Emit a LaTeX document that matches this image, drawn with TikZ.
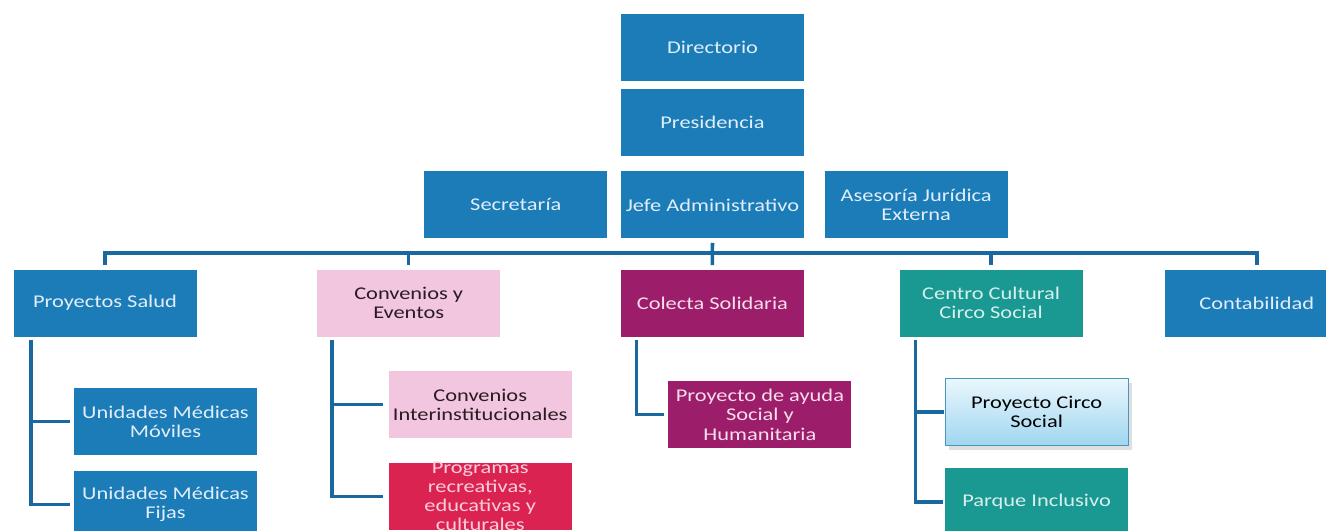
\documentclass[tikz,border=0pt]{standalone}
\usepackage{fontspec}
\setmainfont{Carlito}[FakeStretch=1.25]
\usetikzlibrary{positioning}
\usetikzlibrary{shadows}

\definecolor{orgblue}{RGB}{28,124,184}
\definecolor{bluetext}{RGB}{225,238,250}
\definecolor{orgpink}{RGB}{243,198,223}
\definecolor{pinktext}{RGB}{40,28,34}
\definecolor{orgpurple}{RGB}{156,30,106}
\definecolor{purpletext}{RGB}{246,222,236}
\definecolor{orgred}{RGB}{218,35,80}
\definecolor{redtext}{RGB}{250,205,218}
\definecolor{orgteal}{RGB}{26,152,146}
\definecolor{tealtext}{RGB}{215,240,238}
\definecolor{skytop}{RGB}{234,247,253}
\definecolor{skybottom}{RGB}{160,214,240}
\definecolor{skyline}{RGB}{70,150,190}
\definecolor{linkblue}{RGB}{25,105,160}

\tikzset{
	orgbox/.style={rectangle,minimum width=3.66cm,minimum height=1.34cm,inner sep=0pt,
		align=center,font=\fontsize{10.2}{10.9}\selectfont},
	bluebox/.style={orgbox,fill=orgblue,text=bluetext},
	pinkbox/.style={orgbox,fill=orgpink,text=pinktext},
	purplebox/.style={orgbox,fill=orgpurple,text=purpletext},
	redbox/.style={orgbox,fill=orgred,text=redtext},
	tealbox/.style={orgbox,fill=orgteal,text=tealtext},
	skybox/.style={orgbox,top color=skytop,bottom color=skybottom,draw=skyline,
		line width=0.6pt,text=black,drop shadow={opacity=0.25}},
	link/.style={draw=linkblue,line width=2pt,line join=miter},
}

\begin{document}
\begin{tikzpicture}
		\useasboundingbox (0,0) rectangle (26.52,-10.62);

		\node [bluebox] (dir) at (14.25,-0.95) {Directorio};
		\node [bluebox,below=0.14cm of dir] (pres) {Presidencia};
		\node [bluebox,below=0.3cm of pres] (jefe) {Jefe Administrativo};
		\node [bluebox,left=0.26cm of jefe] (sec) {Secretaría};
		\node [bluebox,right=0.4cm of jefe] (ase) {Asesoría Jurídica\\Externa};

		\node [bluebox] (ps) at (2.1,-6.06) {Proyectos Salud};
		\node [pinkbox,right=2.4cm of ps] (conv) {Convenios y\\Eventos};
		\node [purplebox,right=2.4cm of conv] (col) {Colecta Solidaria};
		\node [tealbox,right=1.9cm of col] (cc) {Centro Cultural\\Circo Social};
		\node [bluebox,right=1.64cm of cc] (cont) {Contabilidad};

		\node [bluebox,below=1.02cm of ps,xshift=1.21cm] (umm) {Unidades Médicas\\Móviles};
		\node [bluebox,below=0.3cm of umm] (umf) {Unidades Médicas\\Fijas};
		\node [pinkbox,below=0.68cm of conv,xshift=1.43cm] (ci) {Convenios\\Interinstitucionales};
		\node [redbox,below=0.48cm of ci] (prog) {\parbox[c][1.1cm][c]{3.6cm}{\centering
			Programas\\recreativas,\\educativas y\\culturales}};
		\node [purplebox,below=0.88cm of col,xshift=0.95cm] (pah) {Proyecto de ayuda\\Social y\\Humanitaria};
		\node [skybox,below=0.82cm of cc,xshift=0.91cm] (pcs) {Proyecto Circo\\Social};
		\node [tealbox,below=0.44cm of pcs] (pin) {Parque Inclusivo};

		% bus under the staff row
		\coordinate (bus) at (0,-5.06);
		\draw [link] ([yshift=0.08cm]ps.north) |- (bus -| cont.north) -- ([yshift=0.08cm]cont.north);
		\foreach \n in {conv,cc}
			\draw [link] (bus -| \n.north) -- ([yshift=0.08cm]\n.north);
		\draw [link] ([yshift=-0.08cm]jefe.south) -- ([yshift=0.08cm]col.north);

		% branches
		\draw [link] ([xshift=0.36cm,yshift=-0.06cm]ps.south west) |- ([xshift=-0.08cm]umm.west);
		\draw [link] ([xshift=0.36cm,yshift=-0.06cm]ps.south west) |- ([xshift=-0.08cm]umf.west);
		\draw [link] ([xshift=0.3cm,yshift=-0.06cm]conv.south west) |- ([xshift=-0.1cm]ci.west);
		\draw [link] ([xshift=0.3cm,yshift=-0.06cm]conv.south west) |- ([xshift=-0.1cm]prog.west);
		\draw [link] ([xshift=0.32cm,yshift=-0.06cm]col.south west) |- ([xshift=-0.08cm]pah.west);
		\draw [link] ([xshift=0.32cm,yshift=-0.06cm]cc.south west) |- ([xshift=-0.02cm]pcs.west);
		\draw [link] ([xshift=0.32cm,yshift=-0.06cm]cc.south west) |- ([xshift=-0.04cm]pin.west);
	\end{tikzpicture}
\end{document}
